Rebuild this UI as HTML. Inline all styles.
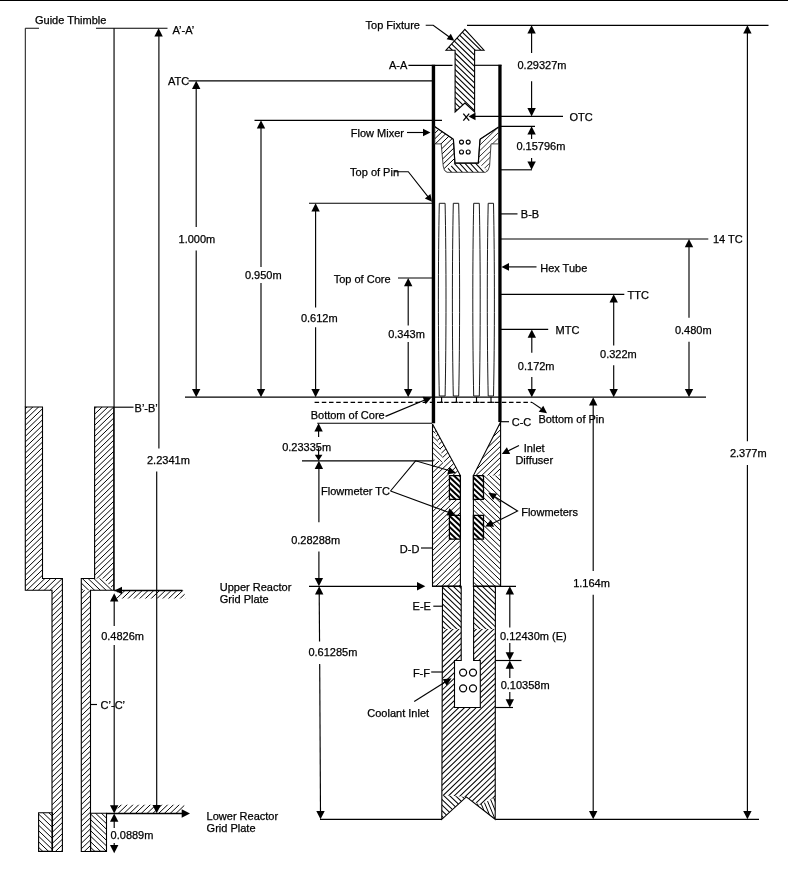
<!DOCTYPE html>
<html><head><meta charset="utf-8"><title>Diagram</title>
<style>
html,body{margin:0;padding:0;background:#fff;}
body{width:788px;height:878px;overflow:hidden;font-family:"Liberation Sans",sans-serif;}
svg{display:block;will-change:transform;transform:translateZ(0)}
svg text{font-family:"Liberation Sans",sans-serif;fill:#000;stroke:#000;stroke-width:0.25px;}
</style></head><body>
<svg width="788" height="878" viewBox="0 0 788 878">
<rect width="788" height="878" fill="#fff"/>
<rect x="0" y="0" width="788" height="1" fill="#000"/>
<polyline points="39,28.25 25.3,28.25 25.3,407" fill="none" stroke="#111" stroke-width="1.0" />
<line x1="96" y1="28.25" x2="167.5" y2="28.25" stroke="#000" stroke-width="1.15" />
<line x1="114.05" y1="28.3" x2="114.05" y2="590.5" stroke="#000" stroke-width="1.15" />
<text x="35" y="24.4" text-anchor="start" font-size="11">Guide Thimble</text>
<text x="172.5" y="34.4" text-anchor="start" font-size="11">A’-A’</text>
<clipPath id="c1"><polygon points="25.3,407 42.5,407 42.5,578.5 62.4,578.5 62.4,590.3 25.3,590.3"/></clipPath>
<path d="M24.3,404.02L63.4,366.49M24.3,409.57L63.4,372.04M24.3,415.12L63.4,377.59M24.3,420.67L63.4,383.14M24.3,426.22L63.4,388.69M24.3,431.77L63.4,394.24M24.3,437.32L63.4,399.79M24.3,442.87L63.4,405.34M24.3,448.42L63.4,410.89M24.3,453.97L63.4,416.44M24.3,459.52L63.4,421.99M24.3,465.07L63.4,427.54M24.3,470.62L63.4,433.09M24.3,476.17L63.4,438.64M24.3,481.72L63.4,444.19M24.3,487.27L63.4,449.74M24.3,492.82L63.4,455.29M24.3,498.37L63.4,460.84M24.3,503.92L63.4,466.39M24.3,509.47L63.4,471.94M24.3,515.02L63.4,477.49M24.3,520.57L63.4,483.04M24.3,526.12L63.4,488.59M24.3,531.67L63.4,494.14M24.3,537.22L63.4,499.69M24.3,542.77L63.4,505.24M24.3,548.32L63.4,510.79M24.3,553.87L63.4,516.34M24.3,559.42L63.4,521.89M24.3,564.97L63.4,527.44M24.3,570.52L63.4,532.99M24.3,576.07L63.4,538.54M24.3,581.62L63.4,544.09M24.3,587.17L63.4,549.64M24.3,592.72L63.4,555.19M24.3,598.27L63.4,560.74M24.3,603.82L63.4,566.29M24.3,609.37L63.4,571.84M24.3,614.92L63.4,577.39M24.3,620.47L63.4,582.94M24.3,626.02L63.4,588.49" stroke="#000" stroke-width="0.98" fill="none" clip-path="url(#c1)"/>
<clipPath id="c2"><polygon points="52,590.3 62.4,590.3 62.4,851.5 52,851.5"/></clipPath>
<path d="M51,589.29L63.4,577.39M51,594.84L63.4,582.94M51,600.39L63.4,588.49M51,605.94L63.4,594.04M51,611.49L63.4,599.59M51,617.04L63.4,605.14M51,622.59L63.4,610.69M51,628.14L63.4,616.24M51,633.69L63.4,621.79M51,639.24L63.4,627.34M51,644.79L63.4,632.89M51,650.34L63.4,638.44M51,655.89L63.4,643.99M51,661.44L63.4,649.54M51,666.99L63.4,655.09M51,672.54L63.4,660.64M51,678.09L63.4,666.19M51,683.64L63.4,671.74M51,689.19L63.4,677.29M51,694.74L63.4,682.84M51,700.29L63.4,688.39M51,705.84L63.4,693.94M51,711.39L63.4,699.49M51,716.94L63.4,705.04M51,722.49L63.4,710.59M51,728.04L63.4,716.14M51,733.59L63.4,721.69M51,739.14L63.4,727.24M51,744.69L63.4,732.79M51,750.24L63.4,738.34M51,755.79L63.4,743.89M51,761.34L63.4,749.44M51,766.89L63.4,754.99M51,772.44L63.4,760.54M51,777.99L63.4,766.09M51,783.54L63.4,771.64M51,789.09L63.4,777.19M51,794.64L63.4,782.74M51,800.19L63.4,788.29M51,805.74L63.4,793.84M51,811.29L63.4,799.39M51,816.84L63.4,804.94M51,822.39L63.4,810.49M51,827.94L63.4,816.04M51,833.49L63.4,821.59M51,839.04L63.4,827.14M51,844.59L63.4,832.69M51,850.14L63.4,838.24M51,855.69L63.4,843.79M51,861.24L63.4,849.34" stroke="#000" stroke-width="0.98" fill="none" clip-path="url(#c2)"/>
<polygon points="25.3,407 42.5,407 42.5,578.5 62.4,578.5 62.4,851.5 52,851.5 52,590.3 25.3,590.3" fill="none" stroke="#000" stroke-width="1.1" />
<clipPath id="c3"><polygon points="94.6,407 113.8,407 113.8,590.3 103.5,578.5 94.6,578.5"/></clipPath>
<path d="M93.6,404.09L114.8,383.74M93.6,409.64L114.8,389.29M93.6,415.19L114.8,394.84M93.6,420.74L114.8,400.39M93.6,426.29L114.8,405.94M93.6,431.84L114.8,411.49M93.6,437.39L114.8,417.04M93.6,442.94L114.8,422.59M93.6,448.49L114.8,428.14M93.6,454.04L114.8,433.69M93.6,459.59L114.8,439.24M93.6,465.14L114.8,444.79M93.6,470.69L114.8,450.34M93.6,476.24L114.8,455.89M93.6,481.79L114.8,461.44M93.6,487.34L114.8,466.99M93.6,492.89L114.8,472.54M93.6,498.44L114.8,478.09M93.6,503.99L114.8,483.64M93.6,509.54L114.8,489.19M93.6,515.09L114.8,494.74M93.6,520.64L114.8,500.29M93.6,526.19L114.8,505.84M93.6,531.74L114.8,511.39M93.6,537.29L114.8,516.94M93.6,542.84L114.8,522.49M93.6,548.39L114.8,528.04M93.6,553.94L114.8,533.59M93.6,559.49L114.8,539.14M93.6,565.04L114.8,544.69M93.6,570.59L114.8,550.24M93.6,576.14L114.8,555.79M93.6,581.69L114.8,561.34M93.6,587.24L114.8,566.89M93.6,592.79L114.8,572.44M93.6,598.34L114.8,577.99M93.6,603.89L114.8,583.54M93.6,609.44L114.8,589.09" stroke="#000" stroke-width="0.98" fill="none" clip-path="url(#c3)"/>
<clipPath id="c4"><polygon points="81.3,578.5 103.5,578.5 113.8,590.3 81.3,590.3"/></clipPath>
<path d="M80.3,543.29L114.8,576.41M80.3,548.84L114.8,581.96M80.3,554.39L114.8,587.51M80.3,559.94L114.8,593.06M80.3,565.49L114.8,598.61M80.3,571.04L114.8,604.16M80.3,576.59L114.8,609.71M80.3,582.14L114.8,615.26M80.3,587.69L114.8,620.81" stroke="#000" stroke-width="0.98" fill="none" clip-path="url(#c4)"/>
<clipPath id="c5"><polygon points="81.3,590.3 90.5,590.3 90.5,851.5 81.3,851.5"/></clipPath>
<path d="M80.3,588.91L91.5,578.16M80.3,594.46L91.5,583.71M80.3,600.01L91.5,589.26M80.3,605.56L91.5,594.81M80.3,611.11L91.5,600.36M80.3,616.66L91.5,605.91M80.3,622.21L91.5,611.46M80.3,627.76L91.5,617.01M80.3,633.31L91.5,622.56M80.3,638.86L91.5,628.11M80.3,644.41L91.5,633.66M80.3,649.96L91.5,639.21M80.3,655.51L91.5,644.76M80.3,661.06L91.5,650.31M80.3,666.61L91.5,655.86M80.3,672.16L91.5,661.41M80.3,677.71L91.5,666.96M80.3,683.26L91.5,672.51M80.3,688.81L91.5,678.06M80.3,694.36L91.5,683.61M80.3,699.91L91.5,689.16M80.3,705.46L91.5,694.71M80.3,711.01L91.5,700.26M80.3,716.56L91.5,705.81M80.3,722.11L91.5,711.36M80.3,727.66L91.5,716.91M80.3,733.21L91.5,722.46M80.3,738.76L91.5,728.01M80.3,744.31L91.5,733.56M80.3,749.86L91.5,739.11M80.3,755.41L91.5,744.66M80.3,760.96L91.5,750.21M80.3,766.51L91.5,755.76M80.3,772.06L91.5,761.31M80.3,777.61L91.5,766.86M80.3,783.16L91.5,772.41M80.3,788.71L91.5,777.96M80.3,794.26L91.5,783.51M80.3,799.81L91.5,789.06M80.3,805.36L91.5,794.61M80.3,810.91L91.5,800.16M80.3,816.46L91.5,805.71M80.3,822.01L91.5,811.26M80.3,827.56L91.5,816.81M80.3,833.11L91.5,822.36M80.3,838.66L91.5,827.91M80.3,844.21L91.5,833.46M80.3,849.76L91.5,839.01M80.3,855.31L91.5,844.56M80.3,860.86L91.5,850.11" stroke="#000" stroke-width="0.98" fill="none" clip-path="url(#c5)"/>
<polygon points="94.6,407 113.8,407 113.8,590.3 90.5,590.3 90.5,851.5 81.3,851.5 81.3,578.5 94.6,578.5" fill="none" stroke="#000" stroke-width="1.1" />
<clipPath id="c6"><polygon points="38.6,812.7 52.5,812.7 52.5,851.4 38.6,851.4"/></clipPath>
<path d="M37.6,790.9L53.5,806.16M37.6,796.45L53.5,811.71M37.6,802.0L53.5,817.26M37.6,807.55L53.5,822.81M37.6,813.1L53.5,828.36M37.6,818.65L53.5,833.91M37.6,824.2L53.5,839.46M37.6,829.75L53.5,845.01M37.6,835.3L53.5,850.56M37.6,840.85L53.5,856.11M37.6,846.4L53.5,861.66M37.6,851.95L53.5,867.21" stroke="#000" stroke-width="0.98" fill="none" clip-path="url(#c6)"/>
<polygon points="38.6,812.7 52.5,812.7 52.5,851.4 38.6,851.4" fill="none" stroke="#000" stroke-width="1.1" />
<clipPath id="c7"><polygon points="90.6,813.3 106.5,813.3 106.5,851.4 90.6,851.4"/></clipPath>
<path d="M89.6,790.87L107.5,808.05M89.6,796.42L107.5,813.6M89.6,801.97L107.5,819.15M89.6,807.52L107.5,824.7M89.6,813.07L107.5,830.25M89.6,818.62L107.5,835.8M89.6,824.17L107.5,841.35M89.6,829.72L107.5,846.9M89.6,835.27L107.5,852.45M89.6,840.82L107.5,858.0M89.6,846.37L107.5,863.55M89.6,851.92L107.5,869.1" stroke="#000" stroke-width="0.98" fill="none" clip-path="url(#c7)"/>
<polygon points="90.6,813.3 106.5,813.3 106.5,851.4 90.6,851.4" fill="none" stroke="#000" stroke-width="1.1" />
<line x1="114.2" y1="407.2" x2="133.5" y2="407.2" stroke="#000" stroke-width="1.15" />
<text x="134.6" y="412" text-anchor="start" font-size="11">B’-B’</text>
<line x1="90.6" y1="704.5" x2="97" y2="704.5" stroke="#000" stroke-width="1.15" />
<text x="100.6" y="709.3" text-anchor="start" font-size="11">C’-C’</text>
<clipPath id="c8"><polygon points="118,590.5 183.8,590.5 185.5,598.4 116,598.4"/></clipPath>
<path d="M115,588.9L186.5,520.26M115,594.45L186.5,525.81M115,600.0L186.5,531.36M115,605.55L186.5,536.91M115,611.1L186.5,542.46M115,616.65L186.5,548.01M115,622.2L186.5,553.56M115,627.75L186.5,559.11M115,633.3L186.5,564.66M115,638.85L186.5,570.21M115,644.4L186.5,575.76M115,649.95L186.5,581.31M115,655.5L186.5,586.86M115,661.05L186.5,592.41M115,666.6L186.5,597.96" stroke="#000" stroke-width="0.98" fill="none" clip-path="url(#c8)"/>
<line x1="114.2" y1="590.5" x2="182.5" y2="590.5" stroke="#000" stroke-width="1.3" />
<polygon points="114.5,590.5 122.0,586.7 122.0,594.3" fill="#000" stroke="none" stroke-width="1.1" />
<clipPath id="c9"><polygon points="119.5,804.7 184.5,804.7 182,813.3 115.5,813.3"/></clipPath>
<path d="M114.5,800.28L185.5,732.12M114.5,805.83L185.5,737.67M114.5,811.38L185.5,743.22M114.5,816.93L185.5,748.77M114.5,822.48L185.5,754.32M114.5,828.03L185.5,759.87M114.5,833.58L185.5,765.42M114.5,839.13L185.5,770.97M114.5,844.68L185.5,776.52M114.5,850.23L185.5,782.07M114.5,855.78L185.5,787.62M114.5,861.33L185.5,793.17M114.5,866.88L185.5,798.72M114.5,872.43L185.5,804.27M114.5,877.98L185.5,809.82" stroke="#000" stroke-width="0.98" fill="none" clip-path="url(#c9)"/>
<line x1="106.4" y1="813.5" x2="185" y2="813.5" stroke="#000" stroke-width="1.3" />
<polygon points="190,813.5 181.7,817.7 181.7,809.3" fill="#000" stroke="none" stroke-width="1.1" />
<polygon points="158.6,28.3 162.8,36.6 154.4,36.6" fill="#000" stroke="none" stroke-width="1.1" />
<line x1="158.9" y1="34" x2="158.9" y2="448.5" stroke="#000" stroke-width="1.15" />
<line x1="156.7" y1="471.5" x2="156.7" y2="808" stroke="#000" stroke-width="1.15" />
<polygon points="156.7,813.3 152.5,805.0 160.9,805.0" fill="#000" stroke="none" stroke-width="1.1" />
<text x="147" y="464.4" text-anchor="start" font-size="11">2.2341m</text>
<line x1="114.2" y1="597.3" x2="114.2" y2="626" stroke="#000" stroke-width="1.15" />
<line x1="114.2" y1="645" x2="114.2" y2="809.5" stroke="#000" stroke-width="1.15" />
<polygon points="114.2,593.3 118.4,601.6 110.0,601.6" fill="#000" stroke="none" stroke-width="1.1" />
<polygon points="114.2,813.5 110.0,805.2 118.4,805.2" fill="#000" stroke="none" stroke-width="1.1" />
<text x="101.2" y="640" text-anchor="start" font-size="11">0.4826m</text>
<line x1="114.2" y1="817.5" x2="114.2" y2="828" stroke="#000" stroke-width="1.15" />
<line x1="114.2" y1="843" x2="114.2" y2="849.3" stroke="#000" stroke-width="1.15" />
<polygon points="114.2,813.5 118.4,821.8 110.0,821.8" fill="#000" stroke="none" stroke-width="1.1" />
<polygon points="114.2,853.3 110.0,845.0 118.4,845.0" fill="#000" stroke="none" stroke-width="1.1" />
<text x="110.6" y="839" text-anchor="start" font-size="11">0.0889m</text>
<text x="206.6" y="819.5" text-anchor="start" font-size="11">Lower Reactor</text>
<text x="206.6" y="832" text-anchor="start" font-size="11">Grid Plate</text>
<text x="219.8" y="591.3" text-anchor="start" font-size="11">Upper Reactor</text>
<text x="219.8" y="603.4" text-anchor="start" font-size="11">Grid Plate</text>
<line x1="185" y1="397.2" x2="706" y2="397.2" stroke="#000" stroke-width="1.25" />
<line x1="320" y1="819.3" x2="442" y2="819.3" stroke="#000" stroke-width="1.15" />
<line x1="495.4" y1="819.3" x2="759" y2="819.3" stroke="#000" stroke-width="1.15" />
<line x1="467" y1="25.3" x2="768.5" y2="25.3" stroke="#000" stroke-width="1.15" />
<text x="167.9" y="85.4" text-anchor="start" font-size="11">ATC</text>
<line x1="188.5" y1="80.8" x2="432" y2="80.8" stroke="#000" stroke-width="1.15" />
<line x1="196.2" y1="84.8" x2="196.2" y2="227" stroke="#000" stroke-width="1.15" />
<line x1="196.2" y1="250.6" x2="196.2" y2="393.2" stroke="#000" stroke-width="1.15" />
<polygon points="196.2,80.8 200.4,89.1 192.0,89.1" fill="#000" stroke="none" stroke-width="1.1" />
<polygon points="196.2,397.2 192.0,388.9 200.4,388.9" fill="#000" stroke="none" stroke-width="1.1" />
<text x="196.9" y="242.8" text-anchor="middle" font-size="11">1.000m</text>
<line x1="254.5" y1="120.3" x2="442" y2="120.3" stroke="#000" stroke-width="1.15" />
<line x1="261" y1="124.3" x2="261" y2="267" stroke="#000" stroke-width="1.15" />
<line x1="261" y1="283" x2="261" y2="393.2" stroke="#000" stroke-width="1.15" />
<polygon points="261,120.3 265.2,128.6 256.8,128.6" fill="#000" stroke="none" stroke-width="1.1" />
<polygon points="261,397.2 256.8,388.9 265.2,388.9" fill="#000" stroke="none" stroke-width="1.1" />
<text x="263.3" y="278.7" text-anchor="middle" font-size="11">0.950m</text>
<line x1="309" y1="203.2" x2="432" y2="203.2" stroke="#000" stroke-width="1.15" />
<line x1="315.6" y1="207.2" x2="315.6" y2="307.4" stroke="#000" stroke-width="1.15" />
<line x1="315.6" y1="327.2" x2="315.6" y2="393.2" stroke="#000" stroke-width="1.15" />
<polygon points="315.6,203.2 319.8,211.5 311.4,211.5" fill="#000" stroke="none" stroke-width="1.1" />
<polygon points="315.6,397.2 311.4,388.9 319.8,388.9" fill="#000" stroke="none" stroke-width="1.1" />
<text x="319.3" y="322" text-anchor="middle" font-size="11">0.612m</text>
<text x="333.7" y="282.8" text-anchor="start" font-size="11">Top of Core</text>
<line x1="398" y1="278" x2="432" y2="278" stroke="#000" stroke-width="1.15" />
<line x1="408.2" y1="282" x2="408.2" y2="325.5" stroke="#000" stroke-width="1.15" />
<line x1="408.2" y1="341.9" x2="408.2" y2="393.2" stroke="#000" stroke-width="1.15" />
<polygon points="408.2,278 412.4,286.3 404.0,286.3" fill="#000" stroke="none" stroke-width="1.1" />
<polygon points="408.2,397.2 404.0,388.9 412.4,388.9" fill="#000" stroke="none" stroke-width="1.1" />
<text x="406.5" y="338.1" text-anchor="middle" font-size="11">0.343m</text>
<text x="350.8" y="136.9" text-anchor="start" font-size="11">Flow Mixer</text>
<line x1="407" y1="132.5" x2="425" y2="132.5" stroke="#000" stroke-width="1.15" />
<polygon points="430.5,132.5 423.0,136.3 423.0,128.7" fill="#000" stroke="none" stroke-width="1.1" />
<text x="350.1" y="176.2" text-anchor="start" font-size="11">Top of Pin</text>
<polyline points="394.6,171.7 408.3,171.7 428.5,197.3" fill="none" stroke="#000" stroke-width="1.1" />
<polygon points="432,201.7 424.83,198.46 430.46,193.98" fill="#000" stroke="none" stroke-width="1.1" />
<text x="389" y="68.9" text-anchor="start" font-size="11">A-A</text>
<line x1="408.4" y1="65.3" x2="452.5" y2="65.3" stroke="#000" stroke-width="1.15" />
<line x1="475" y1="65.3" x2="501.5" y2="65.3" stroke="#000" stroke-width="1.15" />
<text x="420" y="28.7" text-anchor="end" font-size="11">Top Fixture</text>
<polyline points="425.7,25.2 433.2,25.2 450,37.5" fill="none" stroke="#000" stroke-width="1.1" />
<polygon points="454.3,40.7 446.6,39.3 450.8,33.7" fill="#000" stroke="none" stroke-width="1.1" />
<polygon points="464.9,29.3 484,50.2 474.6,50.2 474.6,112 464.9,103 455.1,112 455.1,50.2 446,50.2" fill="#fff" stroke="none"/>
<clipPath id="c10"><polygon points="464.9,29.3 484,50.2 474.6,50.2 474.6,112 464.9,103 455.1,112 455.1,50.2 446,50.2"/></clipPath>
<path d="M445,-12.35L485,26.45M445,-6.8L485,32.0M445,-1.25L485,37.55M445,4.3L485,43.1M445,9.85L485,48.65M445,15.4L485,54.2M445,20.95L485,59.75M445,26.5L485,65.3M445,32.05L485,70.85M445,37.6L485,76.4M445,43.15L485,81.95M445,48.7L485,87.5M445,54.25L485,93.05M445,59.8L485,98.6M445,65.35L485,104.15M445,70.9L485,109.7M445,76.45L485,115.25M445,82.0L485,120.8M445,87.55L485,126.35M445,93.1L485,131.9M445,98.65L485,137.45M445,104.2L485,143.0M445,109.75L485,148.55" stroke="#000" stroke-width="1.1" fill="none" clip-path="url(#c10)"/>
<polygon points="464.9,29.3 484,50.2 474.6,50.2 474.6,112 464.9,103 455.1,112 455.1,50.2 446,50.2" fill="none" stroke="#000" stroke-width="1.1" />
<line x1="433.45" y1="64.8" x2="433.45" y2="423.3" stroke="#000" stroke-width="3.4" />
<line x1="499.95" y1="64.8" x2="499.95" y2="422" stroke="#000" stroke-width="3.3" />
<line x1="463.3" y1="113.6" x2="469.2" y2="120.6" stroke="#000" stroke-width="1.3" />
<line x1="469.2" y1="113.6" x2="463.3" y2="120.6" stroke="#000" stroke-width="1.3" />
<line x1="474" y1="116.4" x2="563" y2="116.4" stroke="#000" stroke-width="1.15" />
<polygon points="468.5,116.4 475.5,112.6 475.5,120.2" fill="#000" stroke="none" stroke-width="1.1" />
<text x="569.4" y="120.7" text-anchor="start" font-size="11">OTC</text>
<clipPath id="c11"><polygon points="434.6,126.6 453.4,139.3 454.9,163.1 445,170.8 443.2,166 441.2,143.9 434.6,143.9"/></clipPath>
<path d="M433.6,123.31L455.9,101.68M433.6,128.86L455.9,107.23M433.6,134.41L455.9,112.78M433.6,139.96L455.9,118.33M433.6,145.51L455.9,123.88M433.6,151.06L455.9,129.43M433.6,156.61L455.9,134.98M433.6,162.16L455.9,140.53M433.6,167.71L455.9,146.08M433.6,173.26L455.9,151.63M433.6,178.81L455.9,157.18M433.6,184.36L455.9,162.73M433.6,189.91L455.9,168.28" stroke="#000" stroke-width="1.0" fill="none" clip-path="url(#c11)"/>
<clipPath id="c12"><polygon points="498.6,127.1 480,139.3 478.3,163.1 487.7,170.8 489.6,166 491,143.9 498.6,143.9"/></clipPath>
<path d="M477.3,125.32L499.6,103.69M477.3,130.87L499.6,109.24M477.3,136.42L499.6,114.79M477.3,141.97L499.6,120.34M477.3,147.52L499.6,125.89M477.3,153.07L499.6,131.44M477.3,158.62L499.6,136.99M477.3,164.17L499.6,142.54M477.3,169.72L499.6,148.09M477.3,175.27L499.6,153.64M477.3,180.82L499.6,159.19M477.3,186.37L499.6,164.74M477.3,191.92L499.6,170.29" stroke="#000" stroke-width="0.8" fill="none" clip-path="url(#c12)"/>
<clipPath id="c13"><polygon points="454.9,163.1 478.3,163.1 487.7,170.8 485.5,172.3 447,172.3 445,170.8"/></clipPath>
<path d="M444,110.8L488.7,159.97M444,116.7L488.7,165.87M444,122.6L488.7,171.77M444,128.5L488.7,177.67M444,134.4L488.7,183.57M444,140.3L488.7,189.47M444,146.2L488.7,195.37M444,152.1L488.7,201.27M444,158.0L488.7,207.17M444,163.9L488.7,213.07M444,169.8L488.7,218.97" stroke="#000" stroke-width="1.05" fill="none" clip-path="url(#c13)"/>
<polygon points="434.6,126.6 453.4,139.3 454.9,163.1 478.3,163.1 480,139.3 498.6,127.1 498.6,143.9 491,143.9 489.6,166 488,170.5 485.5,172.3 447,172.3 444.5,170.5 443.2,166 441.2,143.9 434.6,143.9" fill="none" stroke="#333" stroke-width="0.9" />
<polyline points="453.4,139.3 454.9,163.1 478.3,163.1 480,139.3" fill="none" stroke="#000" stroke-width="1.2" />
<polyline points="434.6,126.6 453.4,139.3" fill="none" stroke="#000" stroke-width="1.2" />
<polyline points="480,139.3 498.6,127.1" fill="none" stroke="#000" stroke-width="1.2" />
<circle cx="461.5" cy="142.1" r="2.0" fill="#fff" stroke="#000" stroke-width="1.1"/>
<circle cx="461.5" cy="152" r="2.0" fill="#fff" stroke="#000" stroke-width="1.1"/>
<circle cx="468.2" cy="142.1" r="2.0" fill="#fff" stroke="#000" stroke-width="1.1"/>
<circle cx="468.2" cy="152" r="2.0" fill="#fff" stroke="#000" stroke-width="1.1"/>
<path d="M439.3,203.3 L445.1,203.3 C446.3,260 446.3,340 445.1,396 L439.3,396 C438.1,340 438.1,260 439.3,203.3 Z" fill="#fff" stroke="#1a1a1a" stroke-width="1"/>
<path d="M453.3,203.3 L458.7,203.3 C459.9,260 459.9,340 458.7,396 L453.3,396 C452.1,340 452.1,260 453.3,203.3 Z" fill="#fff" stroke="#1a1a1a" stroke-width="1"/>
<path d="M473.7,203.3 L479.3,203.3 C480.5,260 480.5,340 479.3,396 L473.7,396 C472.5,340 472.5,260 473.7,203.3 Z" fill="#fff" stroke="#1a1a1a" stroke-width="1"/>
<path d="M488.2,203.3 L493.5,203.3 C494.7,260 494.7,340 493.5,396 L488.2,396 C487.0,340 487.0,260 488.2,203.3 Z" fill="#fff" stroke="#1a1a1a" stroke-width="1"/>
<line x1="441.6" y1="397" x2="441.6" y2="402.3" stroke="#000" stroke-width="1.15" />
<line x1="440.1" y1="402.3" x2="443.1" y2="402.3" stroke="#000" stroke-width="1.15" />
<line x1="456.4" y1="397" x2="456.4" y2="402.3" stroke="#000" stroke-width="1.15" />
<line x1="454.9" y1="402.3" x2="457.9" y2="402.3" stroke="#000" stroke-width="1.15" />
<line x1="476.5" y1="397" x2="476.5" y2="402.3" stroke="#000" stroke-width="1.15" />
<line x1="476.5" y1="402.3" x2="479.5" y2="402.3" stroke="#000" stroke-width="1.15" />
<line x1="491" y1="397" x2="491" y2="402.3" stroke="#000" stroke-width="1.15" />
<line x1="491" y1="402.3" x2="494" y2="402.3" stroke="#000" stroke-width="1.15" />
<line x1="314.6" y1="402.4" x2="532" y2="402.4" stroke="#000" stroke-width="1.25" stroke-dasharray="4.5 2.7"/>
<polyline points="532,402.4 541,408.5" fill="none" stroke="#000" stroke-width="1.1" />
<polygon points="547,413.2 538.72,411.74 543.28,405.66" fill="#000" stroke="none" stroke-width="1.1" />
<text x="538.4" y="422.9" text-anchor="start" font-size="11">Bottom of Pin</text>
<text x="310.7" y="419.4" text-anchor="start" font-size="11">Bottom of Core</text>
<line x1="385.5" y1="416.4" x2="426" y2="399.5" stroke="#000" stroke-width="1.15" />
<polygon points="431.5,397.4 425.61,404.13 422.58,396.72" fill="#000" stroke="none" stroke-width="1.1" />
<line x1="500" y1="421.7" x2="509" y2="421.7" stroke="#000" stroke-width="1.15" />
<text x="511.7" y="425.8" text-anchor="start" font-size="11">C-C</text>
<line x1="501" y1="213.9" x2="517.5" y2="213.9" stroke="#000" stroke-width="1.15" />
<text x="520.8" y="218.3" text-anchor="start" font-size="11">B-B</text>
<line x1="501" y1="239" x2="708.3" y2="239" stroke="#000" stroke-width="1.15" />
<text x="713" y="243.1" text-anchor="start" font-size="11">14 TC</text>
<line x1="689" y1="243" x2="689" y2="317.7" stroke="#000" stroke-width="1.15" />
<line x1="689" y1="341.8" x2="689" y2="393.2" stroke="#000" stroke-width="1.15" />
<polygon points="689,239 693.2,247.3 684.8,247.3" fill="#000" stroke="none" stroke-width="1.1" />
<polygon points="689,397.2 684.8,388.9 693.2,388.9" fill="#000" stroke="none" stroke-width="1.1" />
<text x="693.3" y="334.1" text-anchor="middle" font-size="11">0.480m</text>
<line x1="508" y1="266.9" x2="536.5" y2="266.9" stroke="#000" stroke-width="1.15" />
<polygon points="501.5,266.9 509.0,263.1 509.0,270.7" fill="#000" stroke="none" stroke-width="1.1" />
<text x="540.2" y="271.6" text-anchor="start" font-size="11">Hex Tube</text>
<line x1="501" y1="294.3" x2="624.3" y2="294.3" stroke="#000" stroke-width="1.15" />
<text x="627.6" y="299" text-anchor="start" font-size="11">TTC</text>
<line x1="613.7" y1="298.3" x2="613.7" y2="345.5" stroke="#000" stroke-width="1.15" />
<line x1="613.7" y1="365.2" x2="613.7" y2="393.2" stroke="#000" stroke-width="1.15" />
<polygon points="613.7,294.3 617.9,302.6 609.5,302.6" fill="#000" stroke="none" stroke-width="1.1" />
<polygon points="613.7,397.2 609.5,388.9 617.9,388.9" fill="#000" stroke="none" stroke-width="1.1" />
<text x="618.4" y="357.9" text-anchor="middle" font-size="11">0.322m</text>
<line x1="501" y1="329.4" x2="548.2" y2="329.4" stroke="#000" stroke-width="1.15" />
<text x="555.6" y="334.1" text-anchor="start" font-size="11">MTC</text>
<line x1="531.8" y1="333.4" x2="531.8" y2="352.8" stroke="#000" stroke-width="1.15" />
<line x1="531.8" y1="376.9" x2="531.8" y2="393.2" stroke="#000" stroke-width="1.15" />
<polygon points="531.8,329.4 536.0,337.7 527.6,337.7" fill="#000" stroke="none" stroke-width="1.1" />
<polygon points="531.8,397.2 527.6,388.9 536.0,388.9" fill="#000" stroke="none" stroke-width="1.1" />
<text x="536.2" y="369.6" text-anchor="middle" font-size="11">0.172m</text>
<line x1="531.6" y1="29.3" x2="531.6" y2="53" stroke="#000" stroke-width="1.15" />
<line x1="531.6" y1="81.3" x2="531.6" y2="112.4" stroke="#000" stroke-width="1.15" />
<polygon points="531.6,25.3 535.8,33.6 527.4,33.6" fill="#000" stroke="none" stroke-width="1.1" />
<polygon points="531.6,116.4 527.4,108.1 535.8,108.1" fill="#000" stroke="none" stroke-width="1.1" />
<text x="517.5" y="69.2" text-anchor="start" font-size="11">0.29327m</text>
<line x1="501" y1="126.3" x2="535" y2="126.3" stroke="#000" stroke-width="1.15" />
<line x1="501" y1="169.8" x2="532" y2="169.8" stroke="#000" stroke-width="1.15" />
<line x1="531.6" y1="130.3" x2="531.6" y2="139" stroke="#000" stroke-width="1.15" />
<line x1="531.6" y1="158" x2="531.6" y2="165.8" stroke="#000" stroke-width="1.15" />
<polygon points="531.6,126.3 535.8,134.6 527.4,134.6" fill="#000" stroke="none" stroke-width="1.1" />
<polygon points="531.6,169.8 527.4,161.5 535.8,161.5" fill="#000" stroke="none" stroke-width="1.1" />
<text x="516.4" y="149.6" text-anchor="start" font-size="11">0.15796m</text>
<line x1="747.4" y1="29.3" x2="747.4" y2="441.2" stroke="#000" stroke-width="1.15" />
<line x1="747.4" y1="464.9" x2="747.4" y2="815.3" stroke="#000" stroke-width="1.15" />
<polygon points="747.4,25.3 751.6,33.6 743.2,33.6" fill="#000" stroke="none" stroke-width="1.1" />
<polygon points="747.4,819.3 743.2,811.0 751.6,811.0" fill="#000" stroke="none" stroke-width="1.1" />
<text x="748.3" y="456.9" text-anchor="middle" font-size="11">2.377m</text>
<line x1="593.2" y1="401.2" x2="593.2" y2="570.9" stroke="#000" stroke-width="1.15" />
<line x1="593.2" y1="594.7" x2="593.2" y2="815.3" stroke="#000" stroke-width="1.15" />
<polygon points="593.2,397.2 597.4,405.5 589.0,405.5" fill="#000" stroke="none" stroke-width="1.1" />
<polygon points="593.2,819.3 589.0,811.0 597.4,811.0" fill="#000" stroke="none" stroke-width="1.1" />
<text x="591.5" y="587.4" text-anchor="middle" font-size="11">1.164m</text>
<clipPath id="c14"><polygon points="432.5,424 460.4,475.6 460.4,586.3 432.5,586.3 432.5,459 444.5,463"/></clipPath>
<path d="M431.5,418.26L461.4,389.56M431.5,423.81L461.4,395.11M431.5,429.36L461.4,400.66M431.5,434.91L461.4,406.21M431.5,440.46L461.4,411.76M431.5,446.01L461.4,417.31M431.5,451.56L461.4,422.86M431.5,457.11L461.4,428.41M431.5,462.66L461.4,433.96M431.5,468.21L461.4,439.51M431.5,473.76L461.4,445.06M431.5,479.31L461.4,450.61M431.5,484.86L461.4,456.16M431.5,490.41L461.4,461.71M431.5,495.96L461.4,467.26M431.5,501.51L461.4,472.81M431.5,507.06L461.4,478.36M431.5,512.61L461.4,483.91M431.5,518.16L461.4,489.46M431.5,523.71L461.4,495.01M431.5,529.26L461.4,500.56M431.5,534.81L461.4,506.11M431.5,540.36L461.4,511.66M431.5,545.91L461.4,517.21M431.5,551.46L461.4,522.76M431.5,557.01L461.4,528.31M431.5,562.56L461.4,533.86M431.5,568.11L461.4,539.41M431.5,573.66L461.4,544.96M431.5,579.21L461.4,550.51M431.5,584.76L461.4,556.06M431.5,590.31L461.4,561.61M431.5,595.86L461.4,567.16M431.5,601.41L461.4,572.71M431.5,606.96L461.4,578.26M431.5,612.51L461.4,583.81" stroke="#000" stroke-width="0.98" fill="none" clip-path="url(#c14)"/>
<clipPath id="c15"><polygon points="432.5,424 444.5,463 432.5,459"/></clipPath>
<path d="M431.5,407.45L445.5,421.03M431.5,413.0L445.5,426.58M431.5,418.56L445.5,432.13M431.5,424.11L445.5,437.69M431.5,429.66L445.5,443.24M431.5,435.2L445.5,448.78M431.5,440.75L445.5,454.33M431.5,446.31L445.5,459.88M431.5,451.86L445.5,465.44M431.5,457.4L445.5,470.99M431.5,462.95L445.5,476.53" stroke="#000" stroke-width="0.9" fill="none" clip-path="url(#c15)"/>
<polygon points="432.5,424 460.4,475.6 460.4,586.3 432.5,586.3" fill="none" stroke="#000" stroke-width="1.1" />
<clipPath id="c16"><polygon points="500.6,475.6 500.6,586.3 473.4,586.3 473.4,475.6"/></clipPath>
<path d="M472.4,442.4L501.6,470.44M472.4,447.95L501.6,475.99M472.4,453.5L501.6,481.54M472.4,459.05L501.6,487.09M472.4,464.6L501.6,492.64M472.4,470.15L501.6,498.19M472.4,475.7L501.6,503.74M472.4,481.25L501.6,509.29M472.4,486.8L501.6,514.84M472.4,492.35L501.6,520.39M472.4,497.9L501.6,525.94M472.4,503.45L501.6,531.49M472.4,509.0L501.6,537.04M472.4,514.55L501.6,542.59M472.4,520.1L501.6,548.14M472.4,525.65L501.6,553.69M472.4,531.2L501.6,559.24M472.4,536.75L501.6,564.79M472.4,542.3L501.6,570.34M472.4,547.85L501.6,575.89M472.4,553.4L501.6,581.44M472.4,558.95L501.6,586.99M472.4,564.5L501.6,592.54M472.4,570.05L501.6,598.09M472.4,575.6L501.6,603.64M472.4,581.15L501.6,609.19M472.4,586.7L501.6,614.74" stroke="#000" stroke-width="0.98" fill="none" clip-path="url(#c16)"/>
<clipPath id="c17"><polygon points="500.6,422 500.6,475.6 473.4,475.6"/></clipPath>
<path d="M472.4,417.85L501.6,389.81M472.4,423.4L501.6,395.36M472.4,428.95L501.6,400.91M472.4,434.5L501.6,406.46M472.4,440.05L501.6,412.01M472.4,445.6L501.6,417.56M472.4,451.15L501.6,423.11M472.4,456.7L501.6,428.66M472.4,462.25L501.6,434.21M472.4,467.8L501.6,439.76M472.4,473.35L501.6,445.31M472.4,478.9L501.6,450.86M472.4,484.45L501.6,456.41M472.4,490.0L501.6,461.96M472.4,495.55L501.6,467.51M472.4,501.1L501.6,473.06" stroke="#000" stroke-width="0.98" fill="none" clip-path="url(#c17)"/>
<polygon points="500.6,422 500.6,586.3 473.4,586.3 473.4,475.6" fill="none" stroke="#000" stroke-width="1.1" />
<rect x="449.4" y="475.7" width="11.0" height="23.7" fill="#fff" stroke="none"/>
<clipPath id="c18"><polygon points="449.4,475.7 460.4,475.7 460.4,499.4 449.4,499.4"/></clipPath>
<path d="M448.4,459.28L461.4,471.63M448.4,464.83L461.4,477.18M448.4,470.38L461.4,482.73M448.4,475.93L461.4,488.28M448.4,481.48L461.4,493.83M448.4,487.03L461.4,499.38M448.4,492.58L461.4,504.93M448.4,498.13L461.4,510.48" stroke="#000" stroke-width="2.0" fill="none" clip-path="url(#c18)"/>
<polygon points="449.4,475.7 460.4,475.7 460.4,499.4 449.4,499.4" fill="none" stroke="#000" stroke-width="1.25" />
<rect x="449.4" y="515.4" width="11.0" height="23.8" fill="#fff" stroke="none"/>
<clipPath id="c19"><polygon points="449.4,515.4 460.4,515.4 460.4,539.2 449.4,539.2"/></clipPath>
<path d="M448.4,498.13L461.4,510.48M448.4,503.68L461.4,516.03M448.4,509.23L461.4,521.58M448.4,514.78L461.4,527.13M448.4,520.33L461.4,532.68M448.4,525.88L461.4,538.23M448.4,531.43L461.4,543.78M448.4,536.98L461.4,549.33" stroke="#000" stroke-width="2.0" fill="none" clip-path="url(#c19)"/>
<polygon points="449.4,515.4 460.4,515.4 460.4,539.2 449.4,539.2" fill="none" stroke="#000" stroke-width="1.25" />
<rect x="473.4" y="475.7" width="10.1" height="23.7" fill="#fff" stroke="none"/>
<clipPath id="c20"><polygon points="473.4,475.7 483.5,475.7 483.5,499.4 473.4,499.4"/></clipPath>
<path d="M472.4,459.88L484.5,471.38M472.4,465.43L484.5,476.92M472.4,470.98L484.5,482.47M472.4,476.53L484.5,488.02M472.4,482.08L484.5,493.57M472.4,487.63L484.5,499.12M472.4,493.18L484.5,504.67M472.4,498.73L484.5,510.22" stroke="#000" stroke-width="2.0" fill="none" clip-path="url(#c20)"/>
<polygon points="473.4,475.7 483.5,475.7 483.5,499.4 473.4,499.4" fill="none" stroke="#000" stroke-width="1.25" />
<rect x="473.4" y="515.4" width="10.1" height="23.8" fill="#fff" stroke="none"/>
<clipPath id="c21"><polygon points="473.4,515.4 483.5,515.4 483.5,539.2 473.4,539.2"/></clipPath>
<path d="M472.4,498.73L484.5,510.22M472.4,504.28L484.5,515.77M472.4,509.83L484.5,521.32M472.4,515.38L484.5,526.88M472.4,520.93L484.5,532.42M472.4,526.48L484.5,537.97M472.4,532.03L484.5,543.52M472.4,537.58L484.5,549.07" stroke="#000" stroke-width="2.0" fill="none" clip-path="url(#c21)"/>
<polygon points="473.4,515.4 483.5,515.4 483.5,539.2 473.4,539.2" fill="none" stroke="#000" stroke-width="1.25" />
<line x1="432" y1="586.3" x2="460.9" y2="586.3" stroke="#000" stroke-width="1.25" />
<line x1="472.9" y1="586.3" x2="516" y2="586.3" stroke="#000" stroke-width="1.25" />
<line x1="317.2" y1="423.2" x2="432" y2="423.2" stroke="#000" stroke-width="1.15" />
<line x1="302" y1="460.8" x2="432" y2="460.8" stroke="#000" stroke-width="1.15" />
<polygon points="318.6,423.2 322.8,431.5 314.4,431.5" fill="#000" stroke="none" stroke-width="1.1" />
<line x1="318.6" y1="430" x2="318.6" y2="437" stroke="#000" stroke-width="1.15" />
<polygon points="318.6,460.8 314.8,454.8 322.4,454.8" fill="#000" stroke="none" stroke-width="1.1" />
<line x1="318.6" y1="447.5" x2="318.6" y2="456" stroke="#000" stroke-width="1.15" />
<text x="282.2" y="450.5" text-anchor="start" font-size="11">0.23335m</text>
<line x1="318.9" y1="464.8" x2="318.9" y2="522.2" stroke="#000" stroke-width="1.15" />
<line x1="318.9" y1="551.6" x2="318.9" y2="582.3" stroke="#000" stroke-width="1.15" />
<polygon points="318.9,460.8 323.1,469.1 314.7,469.1" fill="#000" stroke="none" stroke-width="1.1" />
<polygon points="318.9,586.3 314.7,578.0 323.1,578.0" fill="#000" stroke="none" stroke-width="1.1" />
<text x="291.2" y="543.6" text-anchor="start" font-size="11">0.28288m</text>
<line x1="309" y1="586.3" x2="420" y2="586.3" stroke="#000" stroke-width="1.2" />
<polygon points="425.3,586.3 417.0,590.5 417.0,582.1" fill="#000" stroke="none" stroke-width="1.1" />
<polygon points="319.2,586.3 323.4,594.6 315.0,594.6" fill="#000" stroke="none" stroke-width="1.1" />
<polygon points="320.5,819.3 316.3,811.0 324.7,811.0" fill="#000" stroke="none" stroke-width="1.1" />
<line x1="319.2" y1="592" x2="319.55" y2="641.4" stroke="#000" stroke-width="1.15" />
<line x1="319.7" y1="664" x2="320.5" y2="814" stroke="#000" stroke-width="1.15" />
<text x="308.4" y="655.8" text-anchor="start" font-size="11">0.61285m</text>
<text x="321.1" y="494.8" text-anchor="start" font-size="11">Flowmeter TC</text>
<polyline points="390.5,491 415.6,460.8 449,470.5" fill="none" stroke="#000" stroke-width="1.1" />
<polygon points="456,473 447.23,474.21 449.52,466.97" fill="#000" stroke="none" stroke-width="1.1" />
<line x1="390.5" y1="491" x2="449" y2="512.5" stroke="#000" stroke-width="1.15" />
<polygon points="455.5,514.8 446.67,515.46 449.41,508.37" fill="#000" stroke="none" stroke-width="1.1" />
<text x="521.2" y="516.1" text-anchor="start" font-size="11">Flowmeters</text>
<polyline points="494,496.2 517.6,511 491,524.2" fill="none" stroke="#000" stroke-width="1.1" />
<polygon points="488.3,492.7 497.11,493.63 493.14,500.12" fill="#000" stroke="none" stroke-width="1.1" />
<polygon points="485.2,526.6 490.84,519.77 494.06,526.66" fill="#000" stroke="none" stroke-width="1.1" />
<text x="523.8" y="452.1" text-anchor="start" font-size="11">Inlet</text>
<text x="515.4" y="464.2" text-anchor="start" font-size="11">Diffuser</text>
<line x1="519" y1="445.6" x2="508" y2="451" stroke="#000" stroke-width="1.15" />
<polygon points="501.8,454 506.87,447.29 510.21,454.12" fill="#000" stroke="none" stroke-width="1.1" />
<text x="399.8" y="552.5" text-anchor="start" font-size="11">D-D</text>
<line x1="421" y1="548" x2="432" y2="548" stroke="#000" stroke-width="1.15" />
<text x="412.6" y="609.9" text-anchor="start" font-size="11">E-E</text>
<line x1="433.3" y1="606.2" x2="442.6" y2="606.2" stroke="#000" stroke-width="1.15" />
<text x="412.9" y="676.8" text-anchor="start" font-size="11">F-F</text>
<line x1="431.2" y1="672" x2="442.6" y2="672" stroke="#000" stroke-width="1.15" />
<text x="367.3" y="716.7" text-anchor="start" font-size="11">Coolant Inlet</text>
<line x1="414.2" y1="701.4" x2="446" y2="681.5" stroke="#000" stroke-width="1.15" />
<polygon points="451.5,678.2 446.72,685.66 442.7,679.21" fill="#000" stroke="none" stroke-width="1.1" />
<clipPath id="c22"><polygon points="442.3,629 461.2,629 461.2,660.5 454.5,660.5 454.5,707.5 480.3,707.5 480.3,660.5 473.6,660.5 473.6,629 495.4,629 495.3,797 480,805 466.3,796.9 441.9,795"/></clipPath>
<path d="M440.9,623.94L496.4,570.66M440.9,629.54L496.4,576.26M440.9,635.14L496.4,581.86M440.9,640.74L496.4,587.46M440.9,646.34L496.4,593.06M440.9,651.94L496.4,598.66M440.9,657.54L496.4,604.26M440.9,663.14L496.4,609.86M440.9,668.74L496.4,615.46M440.9,674.34L496.4,621.06M440.9,679.94L496.4,626.66M440.9,685.54L496.4,632.26M440.9,691.14L496.4,637.86M440.9,696.74L496.4,643.46M440.9,702.34L496.4,649.06M440.9,707.94L496.4,654.66M440.9,713.54L496.4,660.26M440.9,719.14L496.4,665.86M440.9,724.74L496.4,671.46M440.9,730.34L496.4,677.06M440.9,735.94L496.4,682.66M440.9,741.54L496.4,688.26M440.9,747.14L496.4,693.86M440.9,752.74L496.4,699.46M440.9,758.34L496.4,705.06M440.9,763.94L496.4,710.66M440.9,769.54L496.4,716.26M440.9,775.14L496.4,721.86M440.9,780.74L496.4,727.46M440.9,786.34L496.4,733.06M440.9,791.94L496.4,738.66M440.9,797.54L496.4,744.26M440.9,803.14L496.4,749.86M440.9,808.74L496.4,755.46M440.9,814.34L496.4,761.06M440.9,819.94L496.4,766.66M440.9,825.54L496.4,772.26M440.9,831.14L496.4,777.86M440.9,836.74L496.4,783.46M440.9,842.34L496.4,789.06M440.9,847.94L496.4,794.66M440.9,853.54L496.4,800.26M440.9,859.14L496.4,805.86" stroke="#000" stroke-width="1.02" fill="none" clip-path="url(#c22)"/>
<clipPath id="c23"><polygon points="466.3,796.9 480,805 495.3,797 495.2,819.3"/></clipPath>
<path d="M465.3,720.72L496.3,795.12M465.3,729.72L496.3,804.12M465.3,738.72L496.3,813.12M465.3,747.72L496.3,822.12M465.3,756.72L496.3,831.12M465.3,765.72L496.3,840.12M465.3,774.72L496.3,849.12M465.3,783.72L496.3,858.12M465.3,792.72L496.3,867.12M465.3,801.72L496.3,876.12M465.3,810.72L496.3,885.12M465.3,819.72L496.3,894.12" stroke="#000" stroke-width="1.0" fill="none" clip-path="url(#c23)"/>
<clipPath id="c24"><polygon points="442.3,586.3 461.2,586.3 461.2,629 442.3,629"/></clipPath>
<path d="M441.3,563.65L462.2,583.71M441.3,569.25L462.2,589.31M441.3,574.85L462.2,594.91M441.3,580.45L462.2,600.51M441.3,586.05L462.2,606.11M441.3,591.65L462.2,611.71M441.3,597.25L462.2,617.31M441.3,602.85L462.2,622.91M441.3,608.45L462.2,628.51M441.3,614.05L462.2,634.11M441.3,619.65L462.2,639.71M441.3,625.25L462.2,645.31" stroke="#000" stroke-width="1.02" fill="none" clip-path="url(#c24)"/>
<clipPath id="c25"><polygon points="473.6,586.3 495.5,586.3 495.5,629 473.6,629"/></clipPath>
<path d="M472.6,560.1L496.5,583.04M472.6,565.7L496.5,588.64M472.6,571.3L496.5,594.24M472.6,576.9L496.5,599.84M472.6,582.5L496.5,605.44M472.6,588.1L496.5,611.04M472.6,593.7L496.5,616.64M472.6,599.3L496.5,622.24M472.6,604.9L496.5,627.84M472.6,610.5L496.5,633.44M472.6,616.1L496.5,639.04M472.6,621.7L496.5,644.64M472.6,627.3L496.5,650.24" stroke="#000" stroke-width="1.02" fill="none" clip-path="url(#c25)"/>
<clipPath id="c26"><polygon points="441.9,795 466.3,796.9 441.8,819.3"/></clipPath>
<path d="M440.8,764.77L467.3,790.21M440.8,770.37L467.3,795.81M440.8,775.97L467.3,801.41M440.8,781.57L467.3,807.01M440.8,787.17L467.3,812.61M440.8,792.77L467.3,818.21M440.8,798.37L467.3,823.81M440.8,803.97L467.3,829.41M440.8,809.57L467.3,835.01M440.8,815.17L467.3,840.61" stroke="#000" stroke-width="1.02" fill="none" clip-path="url(#c26)"/>
<polygon points="442.5,586.3 461.2,586.3 461.2,660.5 454.5,660.5 454.5,707.5 480.3,707.5 480.3,660.5 473.6,660.5 473.6,586.3 495.4,586.3 495.2,819.3 466.3,796.9 441.8,819.3" fill="none" stroke="#000" stroke-width="1.1" />
<circle cx="463.1" cy="672.6" r="3.5" fill="#fff" stroke="#000" stroke-width="1.25"/>
<circle cx="463.1" cy="688.3" r="3.5" fill="#fff" stroke="#000" stroke-width="1.25"/>
<circle cx="473" cy="672.6" r="3.5" fill="#fff" stroke="#000" stroke-width="1.25"/>
<circle cx="473" cy="688.3" r="3.5" fill="#fff" stroke="#000" stroke-width="1.25"/>
<line x1="495.5" y1="660.5" x2="521.5" y2="660.5" stroke="#000" stroke-width="1.15" />
<line x1="495.5" y1="707.5" x2="513" y2="707.5" stroke="#000" stroke-width="1.15" />
<line x1="509.8" y1="590.3" x2="509.8" y2="627.4" stroke="#000" stroke-width="1.15" />
<line x1="509.8" y1="643" x2="509.8" y2="656.5" stroke="#000" stroke-width="1.15" />
<polygon points="509.8,586.3 514.0,594.6 505.6,594.6" fill="#000" stroke="none" stroke-width="1.1" />
<polygon points="509.8,660.5 505.6,652.2 514.0,652.2" fill="#000" stroke="none" stroke-width="1.1" />
<text x="500" y="640.2" text-anchor="start" font-size="11">0.12430m (E)</text>
<line x1="509.8" y1="664.5" x2="509.8" y2="677.9" stroke="#000" stroke-width="1.15" />
<line x1="509.8" y1="692" x2="509.8" y2="703.5" stroke="#000" stroke-width="1.15" />
<polygon points="509.8,660.5 514.0,668.8 505.6,668.8" fill="#000" stroke="none" stroke-width="1.1" />
<polygon points="509.8,707.5 505.6,699.2 514.0,699.2" fill="#000" stroke="none" stroke-width="1.1" />
<text x="500.7" y="688.8" text-anchor="start" font-size="11">0.10358m</text>
</svg>
</body></html>
